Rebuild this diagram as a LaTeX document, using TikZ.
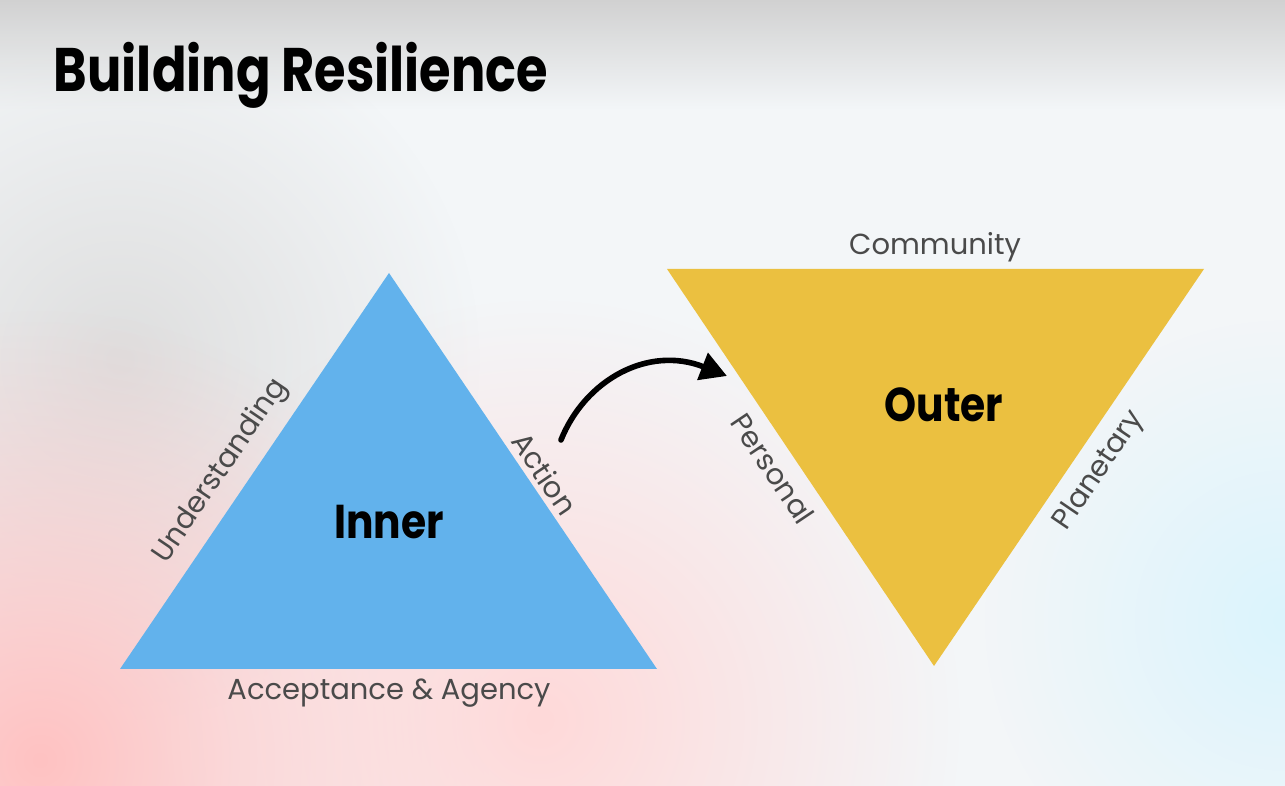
\documentclass[tikz,border=0pt]{standalone}
\usepackage{fontspec}
\setmainfont{Poppins}
\newfontfamily\narrowbold[FakeStretch=0.86]{Poppins}
\newfontfamily\titlebold[FakeStretch=0.83]{Poppins}
\usetikzlibrary{arrows.meta,fadings}

\definecolor{innerblue}{HTML}{62B2EC}
\definecolor{outergold}{HTML}{EBC040}
\definecolor{labelgray}{HTML}{4A4A4A}
\definecolor{bgbase}{HTML}{F3F6F8}
\tikzfading[name=softspot, inner color=transparent!0, outer color=transparent!100]

\begin{document}
\begin{tikzpicture}[x=0.02cm,y=-0.02cm]
				\tikzstyle{every node}=[inner sep=2pt]
				\tikzstyle{side}=[font=\fontsize{16.5}{20}\selectfont, text=labelgray]
				\tikzstyle{big}=[font=\narrowbold\fontsize{27}{30}\selectfont\bfseries]
				% background
				\useasboundingbox (0,0) rectangle (1285,786);
				\fill[bgbase] (0,0) rectangle (1285,786);
				\shade[top color=black!18, bottom color=bgbase] (0,0) rectangle (1285,110);
				\fill[black!13, path fading=softspot] (120,360) circle (360);
				\fill[red!24!white, path fading=softspot] (40,760) circle (450);
				\fill[red!15!white, path fading=softspot] (540,720) circle (420);
				\fill[cyan!14!white, path fading=softspot] (1285,620) circle (300);
				% title
				\node[anchor=base west, font=\titlebold\fontsize{35}{40}\selectfont\bfseries] (title) at (50,92) {Building Resilience};
				% inner triangle
				\coordinate (itop) at (389,273);
				\coordinate (ileft) at (120,669);
				\coordinate (iright) at (657,669);
				\fill[innerblue] (itop) -- (iright) -- (ileft) -- cycle;
				\node[big] (inner) at (389,522) {Inner};
				\path (ileft) -- (itop) node[side, pos=0.46, sloped, above=5pt] (understanding) {Understanding};
				\path (itop) -- (iright) node[side, pos=0.53, sloped, above=1pt] (action) {Action};
				\node[side] (acceptance) at (389,693) {Acceptance \& Agency};
				% outer triangle
				\coordinate (oleft) at (667,269);
				\coordinate (oright) at (1204,269);
				\coordinate (obottom) at (934,666);
				\fill[outergold] (oleft) -- (oright) -- (obottom) -- cycle;
				\node[big] (outer) at (944,405) {Outer};
				\node[side] (community) at (935,247) {Community};
				\path (oleft) -- (obottom) node[side, pos=0.47, sloped, below=5pt] (personal) {Personal};
				\path (obottom) -- (oright) node[side, pos=0.53, sloped, below=5pt] (planetary) {Planetary};
				% arrow
				\coordinate (arrowstart) at (561,440);
				\coordinate (arrowend) at (727,376);
				\draw[line width=3.2pt, line cap=round, -{Triangle[length=15pt,width=16pt]}]
					(arrowstart) .. controls (585,380) and (648,345) .. (arrowend);
\end{tikzpicture}
\end{document}
